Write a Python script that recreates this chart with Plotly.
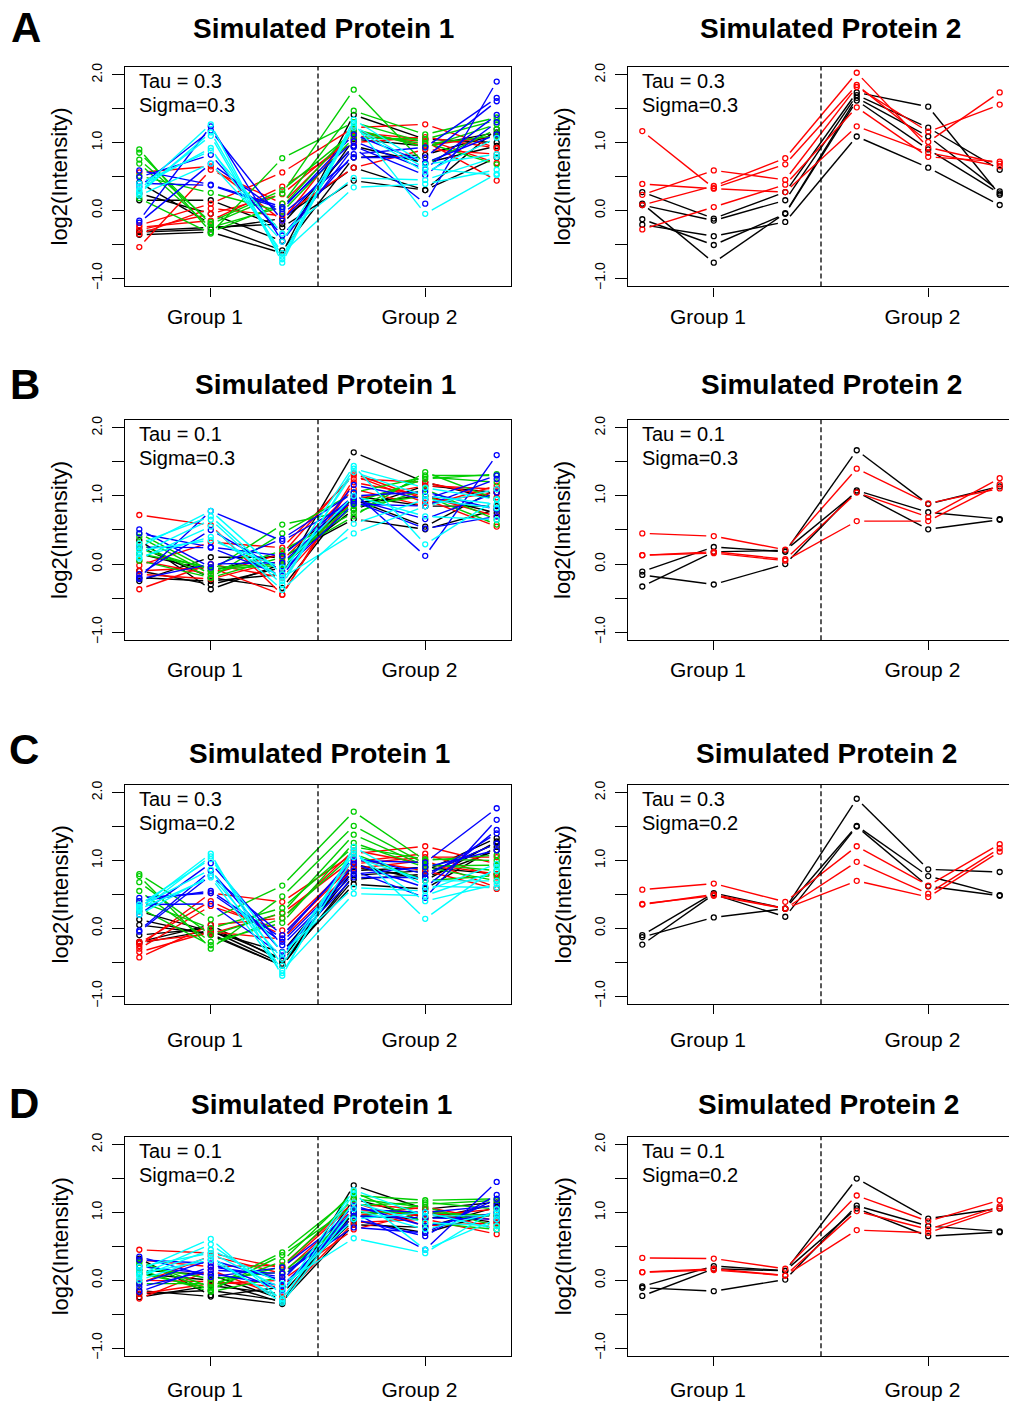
import math
import plotly.graph_objects as go

# ---------------------------------------------------------------------------
# Data: log2(Intensity) per run across six time points (3 per group)
# ---------------------------------------------------------------------------
TIMEPOINTS = [1, 2, 3, 4, 5, 6]
GROUP_TICKS = [2, 5]
GROUP_LABELS = ["Group 1", "Group 2"]
Y_TICKS = [-1.0, -0.5, 0.0, 0.5, 1.0, 1.5, 2.0]
Y_TICK_LABELS = ["\u22121.0", "", "0.0", "", "1.0", "", "2.0"]

PANEL_LETTERS = ["A", "B", "C", "D"]
TAU = ["0.3", "0.1", "0.3", "0.1"]
SIGMA = ["0.3", "0.3", "0.2", "0.2"]

# ---- Row A : Tau = 0.3, Sigma = 0.3 ----
A_P1_BLACK = [[0.41, -0.20, -0.59, 0.78, 0.82, 1.12],
              [-0.32, -0.28, -0.12, 0.63, 0.30, 0.78],
              [-0.36, -0.32, -0.63, 1.41, 1.05, 1.00],
              [0.15, 0.15, -0.25, 0.44, 0.30, 1.20],
              [-0.30, -0.25, -0.20, 0.95, 0.70, 0.95],
              [0.25, -0.05, -0.45, 1.05, 0.95, 1.15]]
A_P1_RED = [[-0.22, 0.10, 0.56, 1.22, 1.27, 0.92],
            [-0.29, -0.05, 0.24, 1.10, 1.02, 0.44],
            [-0.35, 0.03, -0.08, 0.63, 0.90, 0.83],
            [-0.54, 0.60, 0.10, 1.15, 1.05, 0.70],
            [0.56, 0.65, -0.15, 1.18, 0.95, 1.10],
            [-0.25, -0.15, 0.35, 1.00, 1.08, 0.92]]
A_P1_GREEN = [[0.90, -0.32, 0.10, 1.47, 1.12, 1.37],
              [0.85, -0.20, 0.25, 1.78, 0.68, 1.20],
              [0.51, 0.26, -0.02, 1.07, 1.05, 1.33],
              [0.18, -0.34, 0.77, 1.30, 1.00, 0.68],
              [0.69, -0.25, 0.05, 1.20, 0.93, 1.27],
              [0.75, -0.17, 0.30, 1.15, 0.98, 1.10]]
A_P1_BLUE = [[-0.15, 1.24, -0.46, 0.93, 0.10, 1.90],
             [0.59, 0.38, 0.05, 1.02, 0.61, 1.41],
             [0.49, 0.82, -0.37, 0.83, 0.93, 1.66],
             [-0.18, 0.69, -0.05, 0.78, 0.78, 1.61],
             [0.40, 0.37, 0.02, 1.12, 0.70, 1.12],
             [0.35, 1.18, -0.15, 0.95, 0.52, 1.30]]
A_P1_CYAN = [[0.30, 1.27, -0.77, 1.34, 0.68, 0.83],
             [0.25, 1.15, -0.68, 1.29, -0.05, 0.54],
             [0.35, 0.92, -0.63, 0.34, 0.39, 0.60],
             [0.22, 0.69, -0.46, 1.22, 0.56, 1.07],
             [0.40, 0.88, -0.34, 0.48, 0.45, 0.79],
             [0.28, 1.10, -0.72, 1.25, 0.62, 0.52]]
A_P2_BLACK = [[0.27, -0.12, 0.27, 1.74, 1.53, 0.23],
              [0.08, -0.15, 0.15, 1.70, 1.22, 0.60],
              [0.10, -0.77, -0.04, 1.66, 1.09, 0.28],
              [-0.13, -0.51, -0.05, 1.62, 0.90, 0.25],
              [-0.21, -0.38, -0.17, 1.09, 0.63, 0.08]]
A_P2_RED = [[1.17, 0.33, 0.68, 1.85, 1.01, 1.74],
            [0.39, 0.32, 0.27, 1.24, 0.85, 0.65],
            [0.23, 0.59, 0.45, 1.82, 1.16, 1.56],
            [0.08, 0.36, 0.77, 2.03, 0.93, 0.69],
            [-0.28, 0.05, 0.38, 1.52, 0.79, 0.72]]

# ---- Row B : Tau = 0.1, Sigma = 0.3 ----
B_P1_BLACK = [[-0.20, -0.25, -0.15, 1.64, 1.20, 0.95],
              [-0.25, 0.10, 0.10, 0.66, 0.51, 0.80],
              [0.35, -0.37, 0.00, 0.80, 1.15, 1.05],
              [0.15, -0.10, 0.15, 0.90, 1.00, 0.75],
              [0.25, -0.20, -0.35, 1.00, 0.85, 0.85],
              [-0.10, -0.30, -0.05, 0.95, 0.55, 1.10]]
B_P1_RED = [[0.72, 0.57, -0.45, 1.25, 1.20, 0.98],
            [-0.02, 0.32, 0.24, 1.30, 0.90, 1.05],
            [-0.10, -0.05, -0.45, 1.20, 1.00, 0.70],
            [-0.15, -0.22, 0.05, 1.10, 0.85, 1.15],
            [-0.37, 0.00, -0.20, 0.95, 1.15, 1.10],
            [0.05, -0.15, 0.15, 1.33, 0.95, 0.55]]
B_P1_GREEN = [[0.45, -0.10, 0.58, 0.80, 1.30, 1.30],
              [0.30, -0.20, 0.10, 0.70, 1.35, 0.95],
              [0.15, -0.05, 0.00, 0.90, 1.25, 1.32],
              [0.40, -0.15, 0.20, 0.75, 1.10, 0.65],
              [0.05, -0.20, 0.45, 1.05, 1.28, 1.20],
              [0.22, -0.08, -0.02, 0.85, 1.00, 0.58]]
B_P1_BLUE = [[0.51, -0.05, 0.37, 1.05, 0.12, 1.60],
             [-0.20, 0.78, 0.34, 0.92, 0.52, 0.70],
             [0.25, 0.24, -0.17, 1.16, 0.95, 1.30],
             [-0.22, 0.00, 0.02, 0.95, 0.66, 1.05],
             [-0.15, 0.50, -0.10, 0.88, 0.85, 1.25],
             [0.45, 0.25, 0.12, 1.00, 1.06, 0.80]]
B_P1_CYAN = [[0.25, 0.78, -0.15, 1.44, 0.29, 0.95],
             [0.15, 0.65, -0.30, 1.40, 1.12, 0.95],
             [0.10, 0.40, -0.20, 0.45, 0.85, 1.10],
             [0.20, 0.35, -0.05, 1.00, 0.70, 0.65],
             [0.08, 0.55, -0.38, 0.59, 0.95, 0.82],
             [0.30, 0.70, -0.25, 1.35, 1.00, 0.88]]
B_P2_BLACK = [[-0.11, 0.25, 0.18, 1.67, 0.88, 1.14],
              [-0.16, -0.30, 0.00, 1.08, 0.76, 0.66],
              [-0.33, 0.18, 0.20, 1.06, 0.51, 0.65]]
B_P2_RED = [[0.45, 0.41, 0.21, 1.40, 0.89, 1.11],
            [0.13, 0.18, 0.07, 1.05, 0.69, 1.26],
            [0.13, 0.16, 0.05, 0.63, 0.63, 1.17]]

# ---- Row C : Tau = 0.3, Sigma = 0.2 ----
C_P1_BLACK = [[0.13, -0.10, -0.55, 0.78, 0.85, 1.33],
              [-0.20, 0.05, -0.48, 0.65, 0.58, 1.20],
              [-0.22, -0.03, -0.52, 0.72, 0.80, 1.25],
              [0.25, -0.05, -0.35, 0.90, 0.75, 1.15],
              [-0.10, 0.00, -0.45, 0.85, 0.90, 0.80],
              [0.05, -0.08, -0.55, 0.95, 0.70, 1.28]]
C_P1_RED = [[-0.26, 0.52, 0.39, 1.10, 1.21, 0.95],
            [-0.30, 0.33, -0.03, 0.98, 1.10, 0.75],
            [-0.35, -0.05, -0.16, 0.88, 1.00, 0.60],
            [-0.43, 0.05, 0.15, 1.15, 0.95, 0.80],
            [-0.22, 0.40, -0.10, 0.95, 1.05, 1.05],
            [-0.20, -0.08, 0.22, 1.02, 0.85, 0.58]]
C_P1_GREEN = [[0.80, 0.13, 0.63, 1.72, 1.00, 1.08],
              [0.77, -0.30, 0.47, 1.51, 0.95, 0.85],
              [0.68, -0.10, 0.23, 1.38, 0.92, 0.93],
              [0.55, -0.20, 0.08, 1.26, 0.90, 0.70],
              [0.40, 0.00, 0.30, 1.20, 1.02, 1.00],
              [0.30, -0.25, 0.15, 1.10, 0.70, 0.78]]
C_P1_BLUE = [[-0.05, 0.78, -0.10, 1.00, 0.97, 1.77],
             [0.45, 0.52, -0.20, 0.85, 0.45, 1.60],
             [0.35, 0.36, -0.40, 0.95, 0.60, 1.45],
             [0.20, 0.96, -0.25, 0.80, 0.90, 1.15],
             [-0.03, 0.85, -0.35, 0.75, 0.75, 1.40],
             [0.40, 0.55, -0.15, 1.05, 0.80, 1.25]]
C_P1_CYAN = [[0.30, 1.10, -0.70, 1.20, 0.62, 0.60],
             [0.25, 1.06, -0.55, 1.15, 0.14, 0.90],
             [0.32, 0.87, -0.62, 0.51, 0.48, 0.85],
             [0.20, 0.78, -0.45, 1.10, 0.40, 0.65],
             [0.35, 1.02, -0.36, 0.60, 0.55, 0.95],
             [0.28, 0.75, -0.66, 1.05, 0.70, 0.70]]
C_P2_BLACK = [[-0.10, 0.52, 0.29, 1.91, 0.87, 0.83],
              [-0.13, 0.16, 0.29, 1.51, 0.77, 0.49],
              [-0.24, 0.50, 0.17, 1.50, 0.62, 0.48]]
C_P2_RED = [[0.57, 0.66, 0.39, 1.21, 0.63, 1.24],
            [0.36, 0.48, 0.29, 0.98, 0.51, 1.18],
            [0.35, 0.50, 0.29, 0.70, 0.46, 1.13]]

# ---- Row D : Tau = 0.1, Sigma = 0.2 ----
D_P1_BLACK = [[0.32, -0.22, -0.35, 1.40, 1.05, 1.15],
              [-0.20, -0.15, -0.30, 0.82, 0.78, 1.08],
              [-0.25, -0.08, -0.20, 0.95, 0.90, 1.12],
              [0.15, 0.08, -0.28, 1.00, 1.00, 0.85],
              [-0.15, -0.24, -0.10, 0.88, 0.70, 1.00],
              [0.10, 0.00, -0.33, 1.20, 0.92, 0.95]]
D_P1_RED = [[0.45, 0.40, 0.18, 1.12, 1.05, 0.75],
            [-0.05, 0.36, 0.10, 1.05, 0.95, 1.05],
            [-0.27, 0.15, -0.25, 0.85, 0.90, 0.68],
            [-0.20, -0.05, 0.00, 0.75, 1.00, 0.95],
            [0.30, 0.20, 0.22, 1.15, 0.80, 0.85],
            [0.00, -0.02, -0.10, 0.95, 1.08, 0.88]]
D_P1_GREEN = [[0.28, -0.10, 0.41, 1.25, 1.18, 1.20],
              [0.26, -0.15, 0.37, 1.10, 1.15, 1.05],
              [-0.05, -0.05, 0.20, 1.20, 1.08, 0.80],
              [0.15, -0.17, 0.05, 1.00, 1.00, 0.95],
              [0.22, 0.02, 0.12, 0.92, 1.12, 1.18],
              [0.10, -0.12, 0.28, 1.30, 0.85, 0.75]]
D_P1_BLUE = [[0.35, 0.05, 0.19, 1.00, 0.45, 1.45],
             [-0.17, 0.20, 0.05, 0.90, 0.65, 1.26],
             [0.30, 0.25, -0.15, 1.05, 1.00, 1.10],
             [-0.10, 0.15, 0.10, 0.78, 0.70, 1.20],
             [0.20, 0.10, -0.08, 0.95, 0.92, 0.90],
             [-0.05, 0.30, 0.00, 1.10, 0.80, 1.00]]
D_P1_CYAN = [[0.15, 0.61, -0.30, 1.28, 0.45, 0.90],
             [0.08, 0.53, -0.20, 1.33, 0.95, 0.95],
             [0.05, 0.45, -0.05, 0.62, 0.40, 1.05],
             [0.10, 0.30, -0.28, 1.15, 0.85, 0.80],
             [0.20, 0.40, -0.12, 0.90, 1.00, 0.75],
             [0.00, 0.35, -0.33, 1.05, 0.75, 1.00]]
D_P2_BLACK = [[-0.09, 0.21, 0.14, 1.50, 0.91, 1.06],
              [-0.11, -0.16, 0.01, 1.10, 0.80, 0.72],
              [-0.23, 0.17, 0.14, 1.06, 0.65, 0.71]]
D_P2_RED = [[0.33, 0.32, 0.17, 1.25, 0.87, 1.18],
            [0.12, 0.17, 0.07, 1.02, 0.75, 1.09],
            [0.12, 0.15, 0.07, 0.74, 0.70, 1.06]]

COL_BLACK = "#000000"
COL_RED = "#FF0000"
COL_GREEN = "#00CD00"
COL_BLUE = "#0000FF"
COL_CYAN = "#00FFFF"

PROTEIN1 = [
    [(A_P1_BLACK, COL_BLACK), (A_P1_RED, COL_RED), (A_P1_GREEN, COL_GREEN), (A_P1_BLUE, COL_BLUE), (A_P1_CYAN, COL_CYAN)],
    [(B_P1_BLACK, COL_BLACK), (B_P1_RED, COL_RED), (B_P1_GREEN, COL_GREEN), (B_P1_BLUE, COL_BLUE), (B_P1_CYAN, COL_CYAN)],
    [(C_P1_BLACK, COL_BLACK), (C_P1_RED, COL_RED), (C_P1_GREEN, COL_GREEN), (C_P1_BLUE, COL_BLUE), (C_P1_CYAN, COL_CYAN)],
    [(D_P1_BLACK, COL_BLACK), (D_P1_RED, COL_RED), (D_P1_GREEN, COL_GREEN), (D_P1_BLUE, COL_BLUE), (D_P1_CYAN, COL_CYAN)],
]
PROTEIN2 = [
    [(A_P2_BLACK, COL_BLACK), (A_P2_RED, COL_RED)],
    [(B_P2_BLACK, COL_BLACK), (B_P2_RED, COL_RED)],
    [(C_P2_BLACK, COL_BLACK), (C_P2_RED, COL_RED)],
    [(D_P2_BLACK, COL_BLACK), (D_P2_RED, COL_RED)],
]

# ---------------------------------------------------------------------------
# Page geometry (pixels)
# ---------------------------------------------------------------------------
W, H = 1009, 1402
FONT = "Liberation Sans, Arial, Helvetica, sans-serif"
X_RANGE_FULL = [0.8, 6.2]
Y_RANGE = [-1.12, 2.12]
COL_LEFT = [(125, 511), (628, 1009)]          # plot-box x extents
ROW_BOX = [(63, 284), (418, 640), (785, 1006), (1139, 1360)]  # plot-box y extents
PX_X = (COL_LEFT[0][1] - COL_LEFT[0][0]) / (X_RANGE_FULL[1] - X_RANGE_FULL[0])
PX_Y = (ROW_BOX[0][1] - ROW_BOX[0][0]) / (Y_RANGE[1] - Y_RANGE[0])

TITLE_Y = [25, 383, 754, 1107]
TITLE_X = [(323, 830), (325, 831), (319, 826), (321, 828)]
LETTER_X = [26, 25, 24, 24]
LETTER_Y = [24, 383, 750, 1106]
LABEL_OFFSET = [25, 24, 30, 28]   # extra space between tick and group label

# trailing non-breaking spaces nudge the group labels slightly left of the tick
GROUP_TICKTEXT = [lab + "\u00a0\u00a0" for lab in GROUP_LABELS]


def gapped_segments(ys, gap=7.5):
    """Line segments between consecutive points, leaving a gap around each point
    (R's type='b' style)."""
    sx, sy = [], []
    for i in range(len(TIMEPOINTS) - 1):
        x0, x1 = TIMEPOINTS[i], TIMEPOINTS[i + 1]
        y0, y1 = ys[i], ys[i + 1]
        length = math.hypot((x1 - x0) * PX_X, (y1 - y0) * PX_Y)
        t = min(gap / length, 0.45)
        sx += [x0 + t * (x1 - x0), x1 - t * (x1 - x0), None]
        sy += [y0 + t * (y1 - y0), y1 - t * (y1 - y0), None]
    return sx, sy


fig = go.Figure()
annotations = []
shapes = []


def paper_y(px):
    return 1 - px / H


def add_panel(idx, row, col, series):
    xa = "x" if idx == 1 else f"x{idx}"
    ya = "y" if idx == 1 else f"y{idx}"
    for runs, color in series:
        lx, ly, px_, py_ = [], [], [], []
        for ys in runs:
            sx, sy = gapped_segments(ys)
            lx += sx
            ly += sy
            px_ += TIMEPOINTS + [None]
            py_ += list(ys) + [None]
        fig.add_trace(go.Scatter(x=lx, y=ly, mode="lines", xaxis=xa, yaxis=ya,
                                 line=dict(color=color, width=1.4),
                                 hoverinfo="skip", showlegend=False))
        fig.add_trace(go.Scatter(x=px_, y=py_, mode="markers", xaxis=xa, yaxis=ya,
                                 marker=dict(symbol="circle-open", size=5, color=color,
                                             line=dict(color=color, width=1.3)),
                                 showlegend=False))

    x0, x1 = COL_LEFT[col]
    top, bot = ROW_BOX[row]
    xr = [X_RANGE_FULL[0], X_RANGE_FULL[0] + (x1 - x0) / PX_X]
    axis_key = "" if idx == 1 else str(idx)
    fig.update_layout(**{
        f"xaxis{axis_key}": dict(
            domain=[x0 / W, x1 / W], range=xr, anchor=ya,
            tickmode="array", tickvals=GROUP_TICKS, ticktext=GROUP_TICKTEXT,
            ticks="outside", ticklen=9, tickwidth=1.3, tickcolor="black",
            showline=True, linecolor="black", linewidth=1.3, mirror=True,
            showgrid=False, zeroline=False, fixedrange=True,
            tickfont=dict(size=21, color="black", family=FONT),
            ticklabelstandoff=LABEL_OFFSET[row] - 23,
        ),
        f"yaxis{axis_key}": dict(
            domain=[paper_y(bot), paper_y(top)], range=Y_RANGE, anchor=xa,
            tickmode="array", tickvals=Y_TICKS, ticktext=Y_TICK_LABELS,
            tickangle=-90, ticks="outside", ticklen=12, tickwidth=1.3,
            tickcolor="black", showline=True, linecolor="black", linewidth=1.3,
            mirror=(col == 0), showgrid=False, zeroline=False, fixedrange=True,
            tickfont=dict(size=14, color="black", family=FONT),
            ticklabelstandoff=4,
        ),
    })

    # group divider
    shapes.append(dict(type="line", xref=xa, yref=f"{ya} domain", x0=3.5, x1=3.5,
                       y0=0, y1=1, line=dict(color="black", width=1.3, dash="5px,3px")))

    # panel title
    annotations.append(dict(text=f"<b>Simulated Protein {col + 1}</b>", xref="paper", yref="paper",
                            x=TITLE_X[row][col] / W, y=paper_y(TITLE_Y[row]),
                            xanchor="center", yanchor="middle", showarrow=False,
                            font=dict(size=28, color="black", family=FONT)))
    # y-axis title
    annotations.append(dict(text="log2(Intensity)", xref="paper", yref="paper",
                            x=(x0 - 65) / W, y=paper_y((top + bot) / 2), textangle=-90,
                            xanchor="center", yanchor="middle", showarrow=False,
                            font=dict(size=22, color="black", family=FONT)))
    # parameter text
    for txt, yv in [(f"Tau = {TAU[row]}", 1.91), (f"Sigma={SIGMA[row]}", 1.55)]:
        annotations.append(dict(text=txt, xref=xa, yref=ya, x=1, y=yv, xshift=-2,
                                xanchor="left", yanchor="middle", showarrow=False,
                                font=dict(size=20, color="black", family=FONT)))


idx = 1
for row in range(4):
    add_panel(idx, row, 0, PROTEIN1[row])
    idx += 1
    add_panel(idx, row, 1, PROTEIN2[row])
    idx += 1
    annotations.append(dict(text=f"<b>{PANEL_LETTERS[row]}</b>", xref="paper", yref="paper",
                            x=LETTER_X[row] / W, y=paper_y(LETTER_Y[row]),
                            xanchor="center", yanchor="middle", showarrow=False,
                            font=dict(size=42, color="black", family=FONT)))

fig.update_layout(
    width=W, height=H, margin=dict(l=0, r=0, t=0, b=0),
    paper_bgcolor="white", plot_bgcolor="white", showlegend=False,
    font=dict(family=FONT, color="black"),
    annotations=annotations, shapes=shapes,
)

fig.write_html("out.html")
